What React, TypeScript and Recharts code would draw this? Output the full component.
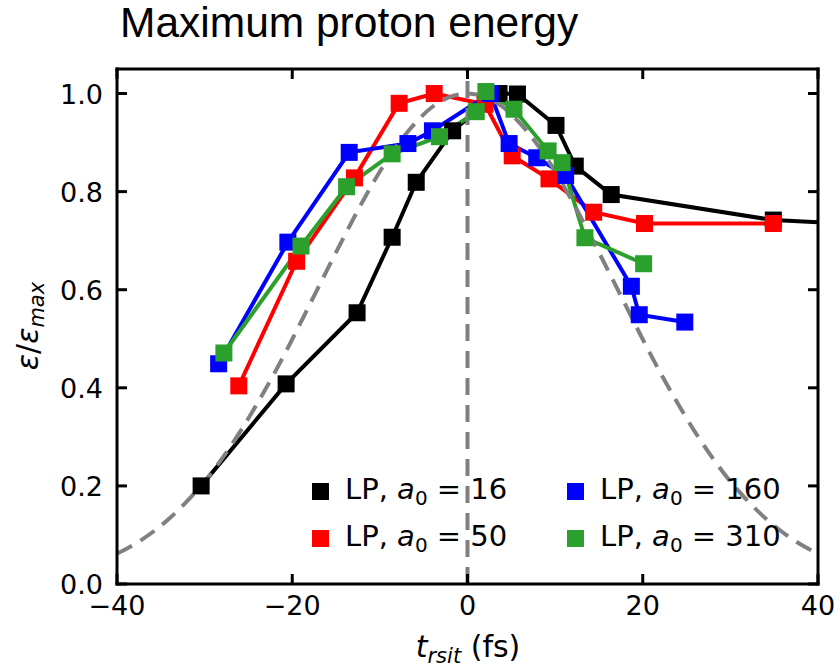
import React from 'react';
import { LineChart, Line, XAxis, YAxis, ReferenceLine, Legend } from 'recharts';

// ---- data ----
const xTicks = [-40, -20, 0, 20, 40];
const yTicks = [0, 0.2, 0.4, 0.6, 0.8, 1.0];
const topTicks = [-40, -20, 0, 20, 40];
const rightTicks = [0, 0.2, 0.4, 0.6, 0.8, 1.0];

const a0Labels = ['16', '50', '160', '310'];
const seriesColors = ['#000000', '#ff0000', '#0000ff', '#2ca02c'];

const a16X = [-30.4, -20.7, -12.6, -8.6, -5.85, -1.7, 3.6, 5.7, 10.1, 12.3, 16.4, 34.9, 50];
const a16Y = [0.2, 0.408, 0.553, 0.707, 0.819, 0.924, 1.0, 0.999, 0.935, 0.852, 0.794, 0.742, 0.729];

const a50X = [-26.1, -19.5, -12.9, -7.8, -3.8, 2.0, 5.1, 9.3, 14.4, 20.2, 34.9];
const a50Y = [0.404, 0.658, 0.828, 0.98, 1.0, 0.978, 0.873, 0.826, 0.758, 0.735, 0.735];

const a160X = [-28.4, -20.5, -13.5, -6.8, -4.0, 2.6, 4.75, 7.9, 11.2, 18.7, 19.6, 24.8];
const a160Y = [0.449, 0.697, 0.88, 0.898, 0.924, 1.0, 0.898, 0.869, 0.833, 0.607, 0.549, 0.534];

const a310X = [-27.8, -19.0, -13.8, -8.6, -3.2, 1.0, 2.1, 5.3, 9.2, 10.8, 13.4, 20.1];
const a310Y = [0.471, 0.689, 0.81, 0.877, 0.912, 0.963, 1.004, 0.968, 0.883, 0.859, 0.706, 0.653];

// dashed envelope curve
const envX = [-40, -38, -36, -34, -32, -30, -28, -26, -24, -22, -20, -18, -16, -14, -12, -10, -8, -6, -4, -2, 0,
  2, 4, 6, 8, 10, 12, 14, 16, 18, 20, 22, 24, 26, 28, 30, 32, 34, 36, 38, 40];
const envY = [0.062, 0.081, 0.105, 0.134, 0.169, 0.209, 0.256, 0.309, 0.368, 0.431, 0.499, 0.57, 0.641, 0.711, 0.779, 0.841, 0.895, 0.939, 0.973, 0.993, 1.0,
  0.993, 0.973, 0.939, 0.895, 0.841, 0.779, 0.711, 0.641, 0.57, 0.499, 0.431, 0.368, 0.309, 0.256, 0.209, 0.169, 0.134, 0.105, 0.081, 0.062];

const toPoints = (xs: number[], ys: number[]) => xs.map((x, i) => ({ x, y: ys[i] }));
const seriesData = [toPoints(a16X, a16Y), toPoints(a50X, a50Y), toPoints(a160X, a160Y), toPoints(a310X, a310Y)];
const envData = toPoints(envX, envY);

// ---- styling ----
const W = 839;
const H = 669;
const TICK_FONT = 'DejaVu Sans, Verdana, sans-serif';
const AXIS_W = 3;
const TICK_LEN = 10;
const GRAY = '#808080';

const fmt = (v: number, digits: number) => {
  const s = digits > 0 ? v.toFixed(digits) : String(v);
  return s.replace('-', '\u2212');
};

const BottomTick = (props: any) => {
  const { x, y, payload } = props;
  return (
    <g>
      <line x1={x} x2={x} y1={y} y2={y - TICK_LEN} stroke="#000" strokeWidth={AXIS_W} />
      <text x={x} y={y + 31} textAnchor="middle" fontFamily={TICK_FONT} fontSize={27} fill="#000">
        {fmt(payload.value, 0)}
      </text>
    </g>
  );
};

const LeftTick = (props: any) => {
  const { x, y, payload } = props;
  return (
    <g>
      <line x1={x} x2={x + TICK_LEN} y1={y} y2={y} stroke="#000" strokeWidth={AXIS_W} />
      <text x={x - 14} y={y + 10} textAnchor="end" fontFamily={TICK_FONT} fontSize={27} fill="#000">
        {fmt(payload.value, 1)}
      </text>
    </g>
  );
};

const TopTick = (props: any) => {
  const { x, y } = props;
  return <line x1={x} x2={x} y1={y} y2={y + TICK_LEN} stroke="#000" strokeWidth={AXIS_W} />;
};

const RightTick = (props: any) => {
  const { x, y } = props;
  return <line x1={x} x2={x - TICK_LEN} y1={y} y2={y} stroke="#000" strokeWidth={AXIS_W} />;
};

const makeDot = (color: string) => (props: any) => {
  const { cx, cy, index } = props;
  if (cx == null || cy == null) return <g key={`d-${index}`} />;
  return <rect key={`d-${index}`} x={cx - 8.5} y={cy - 8.5} width={17} height={17} fill={color} />;
};

const YLabel = () => (
  <text
    x={38}
    y={326}
    transform="rotate(-90, 38, 326)"
    textAnchor="middle"
    fontFamily={TICK_FONT}
    fontSize={30}
    fill="#000"
  >
    <tspan fontStyle="italic">ε</tspan>
    <tspan>/</tspan>
    <tspan fontStyle="italic">ε</tspan>
    <tspan fontStyle="italic" fontSize={21} dy={6}>max</tspan>
  </text>
);

const XLabel = () => (
  <text x={468} y={657} textAnchor="middle" fontFamily={TICK_FONT} fontSize={30} fill="#000">
    <tspan fontStyle="italic">t</tspan>
    <tspan fontStyle="italic" fontSize={21} dy={6}>rsit</tspan>
    <tspan dy={-6}> (fs)</tspan>
  </text>
);

const LegendBox = () => (
  <div style={{ position: 'relative', width: W, height: 0 }}>
    {a0Labels.map((lab, i) => {
      const col = Math.floor(i / 2);
      const row = i % 2;
      const sqLeft = 312 + col * 255;
      const sqTop = 483 + row * 46.5;
      return (
        <div key={lab}>
          <div
            style={{
              position: 'absolute',
              left: sqLeft,
              top: sqTop,
              width: 17,
              height: 17,
              background: seriesColors[i],
            }}
          />
          <div
            style={{
              position: 'absolute',
              left: sqLeft + 33,
              top: sqTop - 8,
              fontFamily: TICK_FONT,
              fontSize: 29,
              lineHeight: '29px',
              whiteSpace: 'pre',
              color: '#000',
            }}
          >
            {'LP, '}
            <i>a</i>
            <span style={{ fontSize: 20, position: 'relative', top: 6 }}>0</span>
            {` = ${lab}`}
          </div>
        </div>
      );
    })}
  </div>
);

const frameLine = { stroke: '#000', strokeWidth: AXIS_W, strokeLinecap: 'square' as const };

export default function App() {
  return (
    <div style={{ position: 'absolute', left: 0, top: 0, width: W, height: H, background: '#fff' }}>
      <svg style={{ position: 'absolute', left: 0, top: 0 }} width={W} height={60}>
        <text x={120} y={37} fontFamily="Liberation Sans, Arial, sans-serif" fontSize={42.5} fill="#000">
          Maximum proton energy
        </text>
      </svg>
      <div style={{ position: 'absolute', left: 0, top: 0 }}>
        <LineChart width={W} height={H} margin={{ top: 68, right: 20, bottom: 0, left: 0 }}>
          <XAxis
            xAxisId="bottom"
            dataKey="x"
            type="number"
            domain={[-40, 40]}
            allowDataOverflow
            ticks={xTicks}
            interval={0}
            height={85}
            tickSize={0}
            tickMargin={0}
            tickLine={false}
            axisLine={frameLine}
            tick={<BottomTick />}
            label={{ content: () => <XLabel /> }}
          />
          <XAxis
            xAxisId="top"
            orientation="top"
            dataKey="x"
            type="number"
            domain={[-40, 40]}
            allowDataOverflow
            ticks={topTicks}
            interval={0}
            height={1}
            tickSize={0}
            tickMargin={0}
            tickLine={false}
            axisLine={frameLine}
            tick={<TopTick />}
          />
          <YAxis
            yAxisId="left"
            type="number"
            domain={[0, 1.05]}
            allowDataOverflow
            ticks={yTicks}
            interval={0}
            width={117}
            tickSize={0}
            tickMargin={0}
            tickLine={false}
            axisLine={frameLine}
            tick={<LeftTick />}
            label={{ content: () => <YLabel /> }}
          />
          <YAxis
            yAxisId="right"
            orientation="right"
            type="number"
            domain={[0, 1.05]}
            allowDataOverflow
            ticks={rightTicks}
            interval={0}
            width={1}
            tickSize={0}
            tickMargin={0}
            tickLine={false}
            axisLine={frameLine}
            tick={<RightTick />}
          />
          {/* invisible carrier so the top/right frame axes are resolved */}
          <Line
            xAxisId="top"
            yAxisId="right"
            data={envData}
            dataKey="y"
            stroke="none"
            strokeWidth={0}
            dot={false}
            activeDot={false}
            legendType="none"
            isAnimationActive={false}
          />
          {seriesData.map((d, i) => (
            <Line
              key={a0Labels[i]}
              xAxisId="bottom"
              yAxisId="left"
              data={d}
              dataKey="y"
              name={`LP, a0 = ${a0Labels[i]}`}
              type="linear"
              stroke={seriesColors[i]}
              strokeWidth={4}
              dot={makeDot(seriesColors[i])}
              activeDot={false}
              isAnimationActive={false}
            />
          ))}
          <Line
            xAxisId="bottom"
            yAxisId="left"
            data={envData}
            dataKey="y"
            type="monotone"
            stroke={GRAY}
            strokeWidth={4}
            strokeDasharray="17 10"
            dot={false}
            activeDot={false}
            legendType="none"
            isAnimationActive={false}
          />
          <ReferenceLine
            xAxisId="bottom"
            yAxisId="left"
            x={0}
            stroke={GRAY}
            strokeWidth={4}
            strokeDasharray="17 10"
          />
          <Legend
            layout="horizontal"
            verticalAlign="middle"
            align="center"
            wrapperStyle={{ left: 0, top: 0, width: W, height: 0 }}
            content={() => <LegendBox />}
          />
        </LineChart>
      </div>
    </div>
  );
}
